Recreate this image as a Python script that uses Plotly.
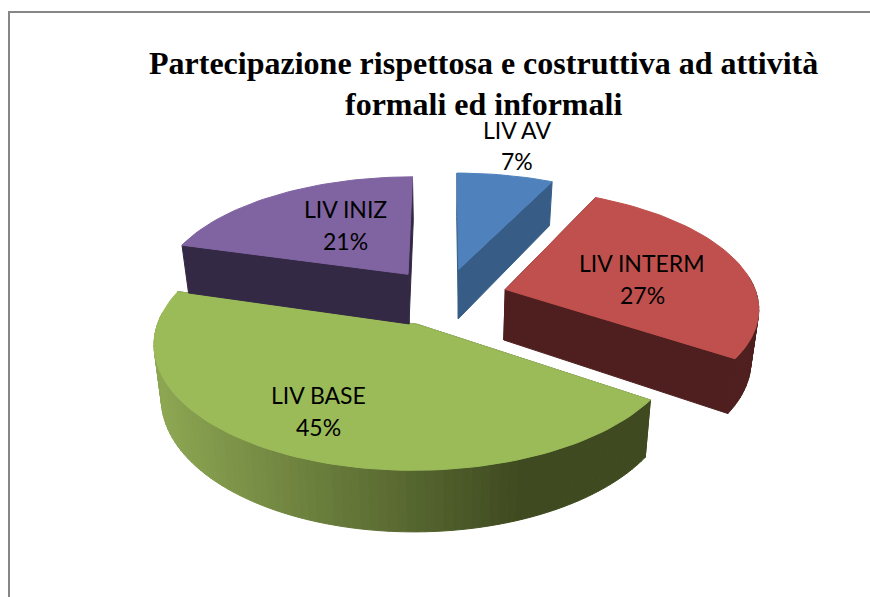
import math
import plotly.graph_objects as go

# Data
categories = ["LIV AV", "LIV INTERM", "LIV BASE", "LIV INIZ"]
percent = [7.2, 27.2, 45.0, 20.6]
title_lines = ["Partecipazione rispettosa e costruttiva ad attività", "formali ed informali"]

# Style
top_colors = ["#4f81bd", "#c0504d", "#9bbb59", "#8064a2"]
wall_colors = ["#375d86", "#4e1f1e", "#3f4a20", "#332945"]
grad_light, grad_dark = (140, 166, 82), (63, 74, 32)
grad_x0, grad_x1 = 160, 520

# Projection settings (pixels)
CX, CY, R, KR = 445, 297, 252, 117
EXPLODE, PERSP, DEPTH, CONVERGE = 0.25, 0.14, 51, 0.025


def project(x, y, bottom=False):
    s = 1 / (1 + PERSP * y)
    f = 1 - CONVERGE if bottom else 1
    return CX + R * x * s * f, CY - KR * y * s + (DEPTH * s if bottom else 0)


def proj_list(pts, bottom=False):
    return [project(x, y, bottom) for x, y in pts]


def poly(points, color):
    xs = [p[0] for p in points] + [points[0][0]]
    ys = [p[1] for p in points] + [points[0][1]]
    return go.Scatter(x=xs, y=ys, mode="lines", fill="toself", fillcolor=color,
                      line=dict(color=color, width=1), hoverinfo="skip", showlegend=False)


def lerp_color(px):
    t = min(1, max(0, (px - grad_x0) / (grad_x1 - grad_x0)))
    return "rgb(%d,%d,%d)" % tuple(round(a + (b - a) * t) for a, b in zip(grad_light, grad_dark))


fig = go.Figure()
total = sum(percent)
cum = 0
for i, (cat, val) in enumerate(zip(categories, percent)):
    a0 = 2 * math.pi * cum / total
    a1 = 2 * math.pi * (cum + val) / total
    cum += val
    mid = (a0 + a1) / 2
    ox, oy = EXPLODE * math.sin(mid), EXPLODE * math.cos(mid)
    n = max(6, int(val * 2))
    arc = [(ox + math.sin(a0 + (a1 - a0) * j / n), oy + math.cos(a0 + (a1 - a0) * j / n)) for j in range(n + 1)]
    apex = (ox, oy)
    # outer wall
    for j in range(n):
        seg = arc[j:j + 2]
        am = a0 + (a1 - a0) * (j + .5) / n
        if math.cos(am) > 0.1:
            continue
        t = proj_list(seg)
        b = proj_list(seg, True)
        col = wall_colors[i]
        if i == 2:
            col = lerp_color((t[0][0] + t[1][0]) / 2)
        fig.add_trace(poly([t[0], t[1], b[1], b[0]], col))
    # radial walls
    for edge in (arc[0], arc[-1]):
        seg = [apex, edge]
        t = proj_list(seg)
        b = proj_list(seg, True)
        fig.add_trace(poly([t[0], t[1], b[1], b[0]], wall_colors[i]))
    # top face
    fig.add_trace(poly(proj_list([apex] + arc), top_colors[i]))

label_pos = {"LIV AV": (517, 130, 161), "LIV INTERM": (642, 263, 295),
             "LIV BASE": (318, 395, 427), "LIV INIZ": (345, 209, 241)}
annots = []
lab_font = dict(family="Lato, Open Sans, sans-serif", size=23, color="black")
for cat, val in zip(categories, percent):
    lx, y1, y2 = label_pos[cat]
    annots.append(dict(x=lx, y=y1, text=cat, showarrow=False, font=lab_font, xref="x", yref="y"))
    annots.append(dict(x=lx, y=y2, text=f"{round(val)}%", showarrow=False, font=lab_font, xref="x", yref="y"))
tfont = dict(family="Liberation Serif, serif", size=32, color="black")
for line, ty in zip(title_lines, (63, 104)):
    annots.append(dict(x=483, y=ty, text=f"<b>{line}</b>", showarrow=False, font=tfont, xref="x", yref="y"))

fig.update_layout(
    width=870, height=597, margin=dict(l=0, r=0, t=0, b=0),
    paper_bgcolor="white", plot_bgcolor="white", showlegend=False,
    xaxis=dict(range=[0, 870], visible=False, fixedrange=True),
    yaxis=dict(range=[597, 0], visible=False, fixedrange=True),
    annotations=annots,
    shapes=[dict(type="rect", x0=9, y0=12, x1=890, y1=620, xref="x", yref="y",
                 line=dict(color="#868686", width=2), fillcolor="rgba(0,0,0,0)", layer="below")],
)
fig.write_html("out.html", config={"displayModeBar": False},
               post_script="document.body.style.margin='0';document.body.style.overflow='hidden';")
